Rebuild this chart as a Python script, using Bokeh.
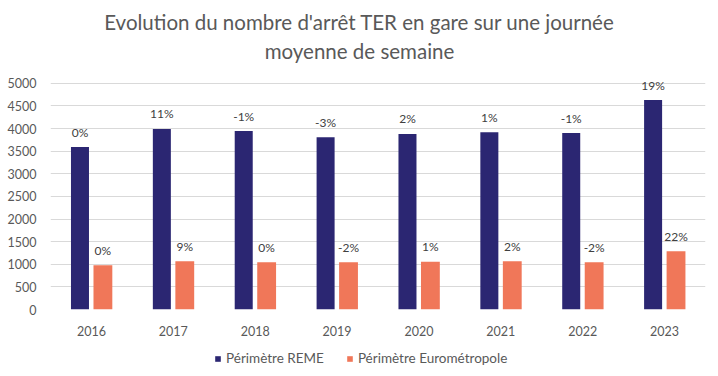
from bokeh.plotting import figure
from bokeh.layouts import column
from bokeh.models import (ColumnDataSource, FactorRange, Range1d, Legend, LegendItem, Label,
                          LabelSet, FixedTicker)
from bokeh.transform import dodge
from bokeh.core.properties import value
from bokeh.embed import file_html
from bokeh.resources import INLINE

years = ["2016", "2017", "2018", "2019", "2020", "2021", "2022", "2023"]
reme = [3590, 3990, 3945, 3810, 3880, 3920, 3900, 4630]
euro = [980, 1065, 1045, 1045, 1055, 1065, 1045, 1285]
reme_pct = ["0%", "11%", "-1%", "-3%", "2%", "1%", "-1%", "19%"]
euro_pct = ["0%", "9%", "0%", "-2%", "1%", "2%", "-2%", "22%"]
y_ticks = [0, 500, 1000, 1500, 2000, 2500, 3000, 3500, 4000, 4500, 5000]
series_names = ["Périmètre REME", "Périmètre Eurométropole"]
title_lines = ["Evolution du nombre d'arrêt TER en gare sur une journée", "moyenne de semaine"]

NAVY = "#2B2672"
SALMON = "#F07759"
FONT = "Lato"
GREY = "#595959"

src = ColumnDataSource(dict(year=years, reme=reme, euro=euro, rp=reme_pct, ep=euro_pct))

# ---- title strip (its frame is aligned with the chart frame, which starts 50px in)
p0 = figure(width=718, height=70, x_range=Range1d(0, 1), y_range=Range1d(0, 1),
            output_backend="svg", toolbar_location=None, title=None,
            x_axis_type=None, y_axis_type=None,
            min_border_left=0, min_border_right=0, min_border_top=0, min_border_bottom=0)
p0.outline_line_color = None
p0.grid.grid_line_color = None
for t, yy in zip(title_lines, [70 - 21, 70 - 50]):
    p0.add_layout(Label(x=309, y=yy, x_units="screen", y_units="screen", text=t,
                        text_align="center", text_baseline="middle",
                        text_font=FONT, text_font_size="20.5px", text_color=GREY))

# ---- main chart
p = figure(width=718, height=270, x_range=FactorRange(*years), y_range=Range1d(0, 5150),
           output_backend="svg", toolbar_location=None, title=None,
           min_border_left=50, min_border_right=13, min_border_top=6, min_border_bottom=31)
p.outline_line_color = None
p.background_fill_color = "white"
p.border_fill_color = "white"

r1 = p.vbar(x=dodge("year", -0.14, range=p.x_range), top="reme", width=0.22, source=src,
            fill_color=NAVY, line_color=None)
r2 = p.vbar(x=dodge("year", 0.14, range=p.x_range), top="euro", width=0.23, source=src,
            fill_color=SALMON, line_color=None)

p.add_layout(LabelSet(x=dodge("year", -0.14, range=p.x_range), y="reme", text="rp", source=src,
                      text_align="center", text_baseline="middle", y_offset=15,
                      text_font=value(FONT), text_font_size=value("12px"), text_color="#404040"))
p.add_layout(LabelSet(x=dodge("year", 0.14, range=p.x_range), y="euro", text="ep", source=src,
                      text_align="center", text_baseline="middle", y_offset=15,
                      text_font=value(FONT), text_font_size=value("12px"), text_color="#404040"))

p.yaxis.ticker = FixedTicker(ticks=y_ticks)
p.ygrid.grid_line_color = "#D9D9D9"
p.xgrid.grid_line_color = None
for ax in (p.xaxis[0], p.yaxis[0]):
    ax.axis_line_color = None
    ax.major_tick_line_color = None
    ax.minor_tick_line_color = None
    ax.major_label_text_font = FONT
    ax.major_label_text_font_size = "12.5px"
    ax.major_label_text_color = GREY
p.yaxis.major_label_standoff = 8
p.xaxis.major_label_standoff = 10

# ---- legend strip (its bars lie far below its visible range; only the legend shows)
p2 = figure(width=718, height=36, x_range=FactorRange(*years), y_range=Range1d(1e6, 1e6 + 1),
            output_backend="svg", toolbar_location=None, title=None,
            x_axis_type=None, y_axis_type=None,
            min_border_left=0, min_border_right=0, min_border_top=0, min_border_bottom=0)
p2.outline_line_color = None
p2.grid.grid_line_color = None
l1 = p2.vbar(x="year", top="reme", width=0.2, source=src, fill_color=NAVY, line_color=None)
l2 = p2.vbar(x="year", top="euro", width=0.2, source=src, fill_color=SALMON, line_color=None)
legend = Legend(items=[LegendItem(label=series_names[0], renderers=[l1]),
                       LegendItem(label=series_names[1], renderers=[l2])],
                orientation="horizontal", location=(164, 10),
                label_text_font=FONT, label_text_font_size="13.5px", label_text_color=GREY,
                glyph_width=7, glyph_height=7, spacing=22, label_standoff=5,
                background_fill_alpha=0, border_line_color=None, padding=0, margin=0)
p2.add_layout(legend, "center")

layout = column(p0, p, p2, spacing=0)
open("out.html", "w").write(file_html(layout, INLINE))
